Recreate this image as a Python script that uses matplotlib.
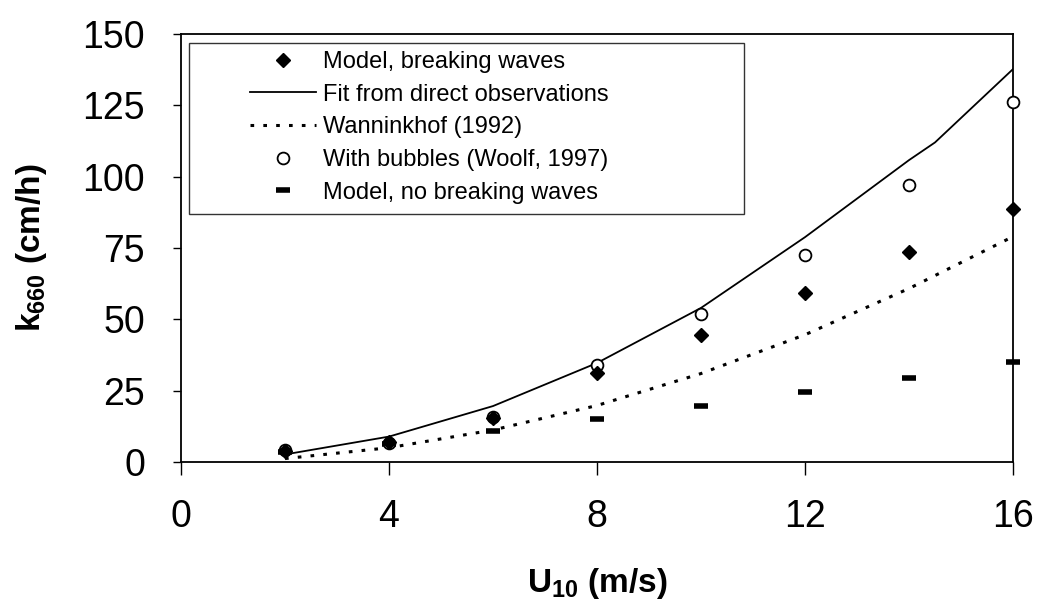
import matplotlib
matplotlib.use("Agg")
import matplotlib.pyplot as plt
from matplotlib.patches import Rectangle

plt.rcParams['font.family'] = ['Liberation Sans', 'DejaVu Sans']
plt.rcParams['mathtext.fontset'] = 'custom'
plt.rcParams['mathtext.rm'] = 'Liberation Sans'
plt.rcParams['mathtext.bf'] = 'Liberation Sans:bold'
plt.rcParams['mathtext.default'] = 'regular'

# Data
u10 = [2, 4, 6, 8, 10, 12, 14, 16]
model_breaking = [3.9, 7.0, 15.4, 31.2, 44.5, 59.2, 73.6, 88.7]
fit_x = [2.05, 4, 6, 8, 10, 12, 14, 14.5, 16]
fit_y = [2.8, 8.9, 19.6, 34.7, 54.0, 78.8, 105.8, 112.0, 137.7]
wann_y = [1.2, 5.0, 11.2, 19.8, 31.0, 44.6, 60.8, 79.0]
bubbles = [4.2, 6.8, 15.6, 34.0, 51.8, 72.5, 97.0, 126.0]
no_breaking = [3.5, 6.3, 11.0, 15.0, 19.7, 24.5, 29.4, 35.2]

xticks = [0, 4, 8, 12, 16]
yticks = [0, 25, 50, 75, 100, 125, 150]

fig = plt.figure(figsize=(10.39, 6.07), dpi=100)
ax = fig.add_axes([0.1742, 0.2389, 0.8008, 0.7051])

ax.plot(u10, no_breaking, linestyle='none', marker='_', markersize=10,
        markeredgewidth=4, color='black', label='Model, no breaking waves',
        zorder=3, clip_on=False)
ax.plot(fit_x, fit_y, '-', color='black', lw=1.3, label='Fit from direct observations', zorder=2)
ax.plot(u10, wann_y, linestyle=(0, (1.2, 3)), color='black', lw=2.2,
        label='Wanninkhof (1992)', zorder=2)
ax.plot(u10, bubbles, linestyle='none', marker='o', markersize=8.5,
        markerfacecolor='white', markeredgecolor='black', markeredgewidth=1.3,
        label='With bubbles (Woolf, 1997)', zorder=4, clip_on=False)
ax.plot(u10, model_breaking, linestyle='none', marker='D', markersize=7.5,
        color='black', label='Model, breaking waves', zorder=5, clip_on=False)

ax.set_xlim(0, 16)
ax.set_ylim(0, 150)
ax.set_xticks(xticks)
ax.set_yticks(yticks)
ax.tick_params(axis='x', direction='out', length=9, width=1, pad=18, labelsize=27)
ax.tick_params(axis='y', direction='out', length=6, width=1, pad=20, labelsize=27)
for s in ax.spines.values():
    s.set_linewidth(1.3)

ax.set_xlabel(r'U$_{\mathbf{10}}$ (m/s)', fontsize=24, fontweight='bold', labelpad=22)
ax.set_ylabel(r'k$_{660}$ (cm/h)', fontsize=24, fontweight='bold', labelpad=24)

# legend frame (drawn as a box in axes coordinates)
ax.add_patch(Rectangle((0.0096, 0.579), 0.667, 0.40, transform=ax.transAxes,
                       fill=False, edgecolor='#333333', lw=1.0, zorder=6))

h, l = ax.get_legend_handles_labels()
order = [4, 1, 2, 3, 0]
leg = ax.legend([h[i] for i in order], [l[i] for i in order],
                loc='upper left', bbox_to_anchor=(0.083, 0.96), fontsize=17,
                frameon=False, handlelength=2.8, handletextpad=0.3,
                labelspacing=0.45, borderpad=0, borderaxespad=0)

fig.savefig('out.png', dpi=100)
